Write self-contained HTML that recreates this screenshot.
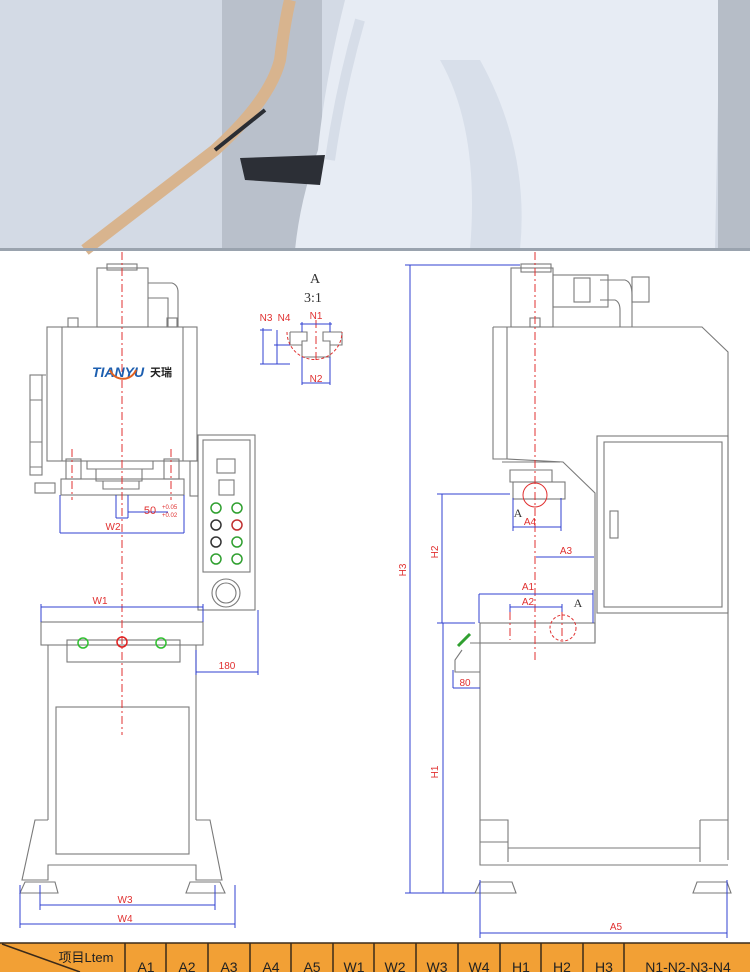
<!DOCTYPE html>
<html><head><meta charset="utf-8"><style>
body{margin:0;width:750px;height:972px;overflow:hidden;background:#fff;font-family:"Liberation Sans","Noto Sans CJK SC",sans-serif}
svg{display:block}
</style></head><body>
<svg width="750" height="972" viewBox="0 0 750 972" xmlns="http://www.w3.org/2000/svg" font-family="Liberation Sans, Noto Sans CJK SC, sans-serif">
<!-- photo -->
<rect x="0" y="0" width="750" height="250" fill="#d3dae5"/>
<rect x="222" y="0" width="100" height="250" fill="#b9c0cb"/>
<path d="M330 0 L720 0 L715 250 L295 250 Q300 200 318 150 Q325 80 345 0Z" fill="#e7ecf4"/>
<path d="M440 60 Q480 130 470 250 L520 250 Q530 150 480 60Z" fill="#d8dfea"/>
<path d="M360 20 Q340 90 330 160" stroke="#d6dde8" stroke-width="10" fill="none"/>
<rect x="718" y="0" width="32" height="250" fill="#b6bdc7"/>
<path d="M85 250 Q150 200 215 150 Q270 100 280 60 Q285 20 290 0" stroke="#d8b48e" stroke-width="12" fill="none"/>
<path d="M215 150 L265 110" stroke="#2a2d33" stroke-width="4"/>
<path d="M240 158 L325 155 L320 185 L245 180Z" fill="#2c2f36"/>
<rect x="0" y="248" width="750" height="3" fill="#9aa3ae"/>

<g stroke="#7a7a7a" stroke-width="1.1" fill="none">
<!-- LEFT MACHINE -->
<rect x="97" y="268" width="51" height="59"/>
<rect x="107" y="264" width="30" height="6"/>
<path d="M148 283 L172 283 Q178 285 178 292 L178 327 M148 298 L168 298 L168 327"/>
<rect x="68" y="318" width="10" height="9"/><rect x="167" y="318" width="10" height="9"/>
<rect x="47" y="327" width="150" height="134"/>
<line x1="62" y1="327" x2="62" y2="461"/><line x1="183" y1="327" x2="183" y2="461"/>
<rect x="30" y="375" width="12" height="100"/>
<path d="M30 375 h16 M30 400 h12 M30 442 h12 M30 467 h12"/>
<rect x="35" y="483" width="20" height="10"/>
<path d="M47 461 h150 M87 461 v8 h66 v-8 M96 469 v12 h46 v-12 M103 481 v8 h36 v-8"/>
<rect x="66" y="459" width="15" height="20"/><rect x="164" y="459" width="15" height="20"/>
<rect x="61" y="479" width="123" height="16"/>
<rect x="190" y="461" width="8" height="35"/>
<!-- control panel -->
<rect x="198" y="435" width="57" height="175"/>
<rect x="203" y="440" width="47" height="132"/>
<rect x="217" y="459" width="18" height="14"/>
<rect x="219" y="480" width="15" height="15"/>
<circle cx="226" cy="593" r="14"/><circle cx="226" cy="593" r="10"/>
<!-- table -->
<rect x="41" y="622" width="162" height="23"/>
<rect x="67" y="640" width="113" height="22"/>
<line x1="48" y1="645" x2="48" y2="820"/><line x1="196" y1="645" x2="196" y2="820"/>
<rect x="56" y="707" width="133" height="147"/>
<path d="M48 820 L35 820 L22 880 L48 880 L48 865 L196 865 L196 880 L222 880 L210 820 L196 820"/>
<path d="M20 893 L25 882 L55 882 L58 893Z M186 893 L190 882 L220 882 L225 893Z"/>

<!-- RIGHT MACHINE -->
<rect x="511" y="268" width="42" height="59"/>
<rect x="521" y="264" width="30" height="8"/>
<rect x="553" y="275" width="55" height="32"/>
<rect x="574" y="278" width="16" height="24"/>
<path d="M600 280 L625 280 Q632 282 632 295 L632 327 M600 300 L615 300 Q620 302 620 310 L620 327"/>
<rect x="632" y="277" width="17" height="25"/>
<rect x="530" y="318" width="10" height="9"/>
<path d="M493 327 L702 327 L728 352 L728 860 M493 327 L493 459 L507 459 L507 327 M507 459 L563 462 L595 493 L595 643"/>
<rect x="597" y="436" width="131" height="177"/><rect x="604" y="442" width="118" height="165"/>
<rect x="610" y="511" width="8" height="27"/>
<path d="M502 462 h58 M510 470 h42 v12 h-42z"/>
<rect x="513" y="482" width="52" height="17"/>
<rect x="480" y="623" width="115" height="20"/>
<path d="M480 643 L480 865 L728 865 M470 643 L480 643 M462 650 L455 660 L455 672 L480 672"/>
<path d="M480 820 h28 v22 h-28 M508 820 v42 M700 820 h28 M700 820 v42 M508 848 L700 848"/>
<path d="M475 893 L480 882 L512 882 L516 893Z M693 893 L697 882 L727 882 L731 893Z"/>
<!-- detail A -->
<path d="M290 332 H307 V341 H302 V357 H330 V341 H323 V332 H342 M290 332 V345 H302 M330 345 H342 V332"/>
</g>
<!-- circles dashed red -->
<g stroke="#e03030" stroke-width="1" fill="none">
<path d="M287 332 A27 27 0 0 0 342 332" stroke-dasharray="3 2"/>
<circle cx="535" cy="495" r="12"/>
<circle cx="563" cy="628" r="13" stroke-dasharray="3 2"/>
</g>
<!-- centerlines -->
<g stroke="#e03030" stroke-width="1" stroke-dasharray="8 3 2 3">
<line x1="122" y1="252" x2="122" y2="735"/>
<line x1="535" y1="252" x2="535" y2="660"/>
<line x1="72" y1="449" x2="72" y2="500"/><line x1="171" y1="449" x2="171" y2="500"/>
<line x1="316" y1="320" x2="316" y2="362"/>
<line x1="510" y1="612" x2="510" y2="640"/><line x1="562" y1="612" x2="562" y2="640"/>
</g>
<!-- dimensions blue -->
<g stroke="#3040d0" stroke-width="1" fill="none">
<path d="M60 495 V533 M184 495 V533 M60 533 H184"/>
<path d="M116 495 V518 M128 495 V518 M116 518 H128 M128 512 H168"/>
<path d="M41 604 V622 M203 604 V622 M41 607 H203"/>
<path d="M196 650 V675 M258 610 V675 M196 672 H258"/>
<path d="M40 885 V910 M215 885 V910 M40 905 H215"/>
<path d="M20 885 V928 M235 885 V928 M20 924 H235"/>
<path d="M480 880 V938 M727 880 V938 M480 933 H727"/>
<path d="M410 265 V893 M405 265 H520 M405 893 H475"/>
<path d="M442 494 V623 M437 494 H510 M437 623 H475"/>
<path d="M443 623 V893"/>
<path d="M513 498 V531 M561 498 V531 M513 527 H561"/>
<path d="M536 557 H594"/>
<path d="M479 594 V623 M593 590 V623 M479 594 H593"/>
<path d="M510 604 V612 M562 604 V612 M510 607 H562"/>
<path d="M453 670 V688 M453 688 H480"/>
<path d="M263 328 V364 M260 330 H272 M260 364 H290 M277 330 V364 M274 345 H290"/>
<path d="M302 322 V332 M330 322 V332 M300 324 H332"/>
<path d="M302 357 V385 M330 357 V385 M302 383 H330"/>
</g>
<g fill="#e03030" font-size="10" text-anchor="middle">
<text x="113" y="530">W2</text>
<text x="150" y="514" font-size="11">50</text>
<text x="162" y="509" font-size="6" text-anchor="start">+0.05</text>
<text x="162" y="517" font-size="6" text-anchor="start">+0.02</text>
<text x="100" y="604">W1</text>
<text x="227" y="669">180</text>
<text x="125" y="903">W3</text>
<text x="125" y="922">W4</text>
<text x="616" y="930">A5</text>
<text x="530" y="525">A4</text>
<text x="566" y="554">A3</text>
<text x="528" y="590">A1</text>
<text x="528" y="605">A2</text>
<text x="465" y="686">80</text>
<text x="266" y="321">N3</text>
<text x="284" y="321">N4</text>
<text x="316" y="319">N1</text>
<text x="316" y="382">N2</text>
<text transform="translate(406,570) rotate(-90)">H3</text>
<text transform="translate(438,552) rotate(-90)">H2</text>
<text transform="translate(438,772) rotate(-90)">H1</text>
</g>
<g font-family="Liberation Serif, serif" fill="#333" font-size="14" text-anchor="middle">
<text x="315" y="283">A</text><text x="313" y="302">3:1</text>
<text x="518" y="517" font-size="12">A</text><text x="578" y="607" font-size="12">A</text>
</g>
<text x="92" y="377" font-size="14" font-weight="bold" fill="#1d5fb0" font-style="italic">TIANYU</text>
<text x="150" y="376" font-size="11" font-weight="bold" fill="#222">天瑞</text>
<path d="M110 370 A14 14 0 0 0 136 370" stroke="#e06020" stroke-width="2" fill="none"/>
<g stroke-width="1.5" fill="none">
<circle cx="216" cy="508" r="5" stroke="#30a030"/><circle cx="237" cy="508" r="5" stroke="#30a030"/>
<circle cx="216" cy="525" r="5" stroke="#333"/><circle cx="237" cy="525" r="5" stroke="#c03030"/>
<circle cx="216" cy="542" r="5" stroke="#333"/><circle cx="237" cy="542" r="5" stroke="#30a030"/>
<circle cx="216" cy="559" r="5" stroke="#30a030"/><circle cx="237" cy="559" r="5" stroke="#30a030"/>
<ellipse cx="83" cy="643" rx="5" ry="5" stroke="#30c030"/><ellipse cx="161" cy="643" rx="5" ry="5" stroke="#30c030"/>
<circle cx="122" cy="642" r="5" stroke="#e02020"/>
</g>
<path d="M458 646 L470 634" stroke="#30a030" stroke-width="3"/>
<!-- table -->
<g>
<rect x="0" y="943" width="750" height="29" fill="#f2a035"/>
<g stroke="#3a2a1a" stroke-width="1.5">
<line x1="0" y1="943" x2="750" y2="943"/>
<line x1="125" y1="943" x2="125" y2="972"/><line x1="166" y1="943" x2="166" y2="972"/><line x1="208" y1="943" x2="208" y2="972"/><line x1="250" y1="943" x2="250" y2="972"/><line x1="291" y1="943" x2="291" y2="972"/><line x1="333" y1="943" x2="333" y2="972"/><line x1="374" y1="943" x2="374" y2="972"/><line x1="416" y1="943" x2="416" y2="972"/><line x1="458" y1="943" x2="458" y2="972"/><line x1="500" y1="943" x2="500" y2="972"/><line x1="541" y1="943" x2="541" y2="972"/><line x1="583" y1="943" x2="583" y2="972"/><line x1="624" y1="943" x2="624" y2="972"/>
<line x1="2" y1="944" x2="80" y2="972"/>
</g>
<g font-size="14" fill="#222" text-anchor="middle">
<text x="86" y="962" font-size="13">项目Ltem</text>
<text x="146" y="972">A1</text><text x="187" y="972">A2</text><text x="229" y="972">A3</text><text x="271" y="972">A4</text><text x="312" y="972">A5</text><text x="354" y="972">W1</text><text x="395" y="972">W2</text><text x="437" y="972">W3</text><text x="479" y="972">W4</text><text x="521" y="972">H1</text><text x="562" y="972">H2</text><text x="604" y="972">H3</text><text x="688" y="972">N1-N2-N3-N4</text>
</g>
</g>
</svg>
</body></html>
